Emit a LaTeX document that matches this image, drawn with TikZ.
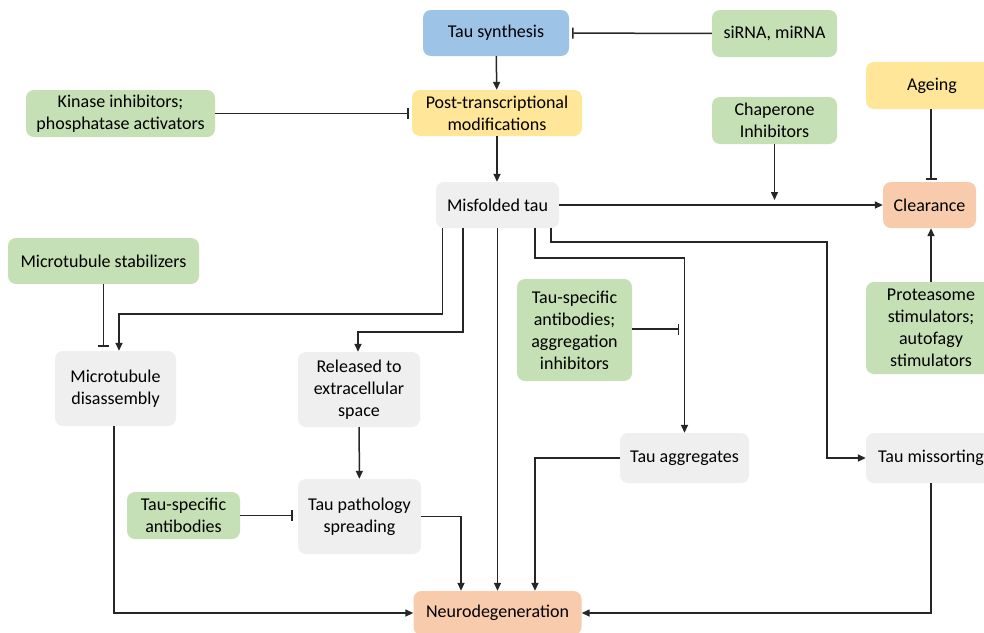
\documentclass[tikz,border=0pt]{standalone}
\usepackage{fontspec}
\setmainfont{Carlito}
\usetikzlibrary{arrows.meta,calc}
\definecolor{cblue}{HTML}{9DC3E6}
\definecolor{cgreen}{HTML}{C5E0B4}
\definecolor{cyellow}{HTML}{FFE699}
\definecolor{corange}{HTML}{F8CBAD}
\definecolor{cgray}{HTML}{EFEFEF}
\tikzset{
  box/.style={rounded corners=8pt, align=center, inner sep=0pt,
    font=\fontsize{18}{22}\selectfont, text=black},
  arr/.style={line width=1.5pt, draw=black!85, -{Triangle[length=8pt,width=7pt]}},
  inh/.style={line width=1.5pt, draw=black!85, -{Bar[width=11pt,line width=1.5pt]}},
}
\begin{document}
\begin{tikzpicture}[x=1pt,y=-1pt]
\useasboundingbox (0,0) rectangle (984,632);
\clip (0,0) rectangle (984,632);
\fill[white] (0,0) rectangle (984,632);
% nodes
\node[box, fill=cblue, minimum width=146pt, minimum height=46pt] (syn) at (496,33) {Tau synthesis};
\node[box, fill=cgreen, minimum width=125pt, minimum height=47pt] (sirna) at (774.5,33.5) {siRNA, miRNA};
\node[box, fill=cyellow, minimum width=170pt, minimum height=46pt] (post) at (497,113) {Post-transcriptional\\modifications};
\node[box, fill=cgreen, minimum width=189pt, minimum height=47pt] (kin) at (120.5,113.5) {Kinase inhibitors;\\phosphatase activators};
\node[box, fill=cgreen, minimum width=125pt, minimum height=47pt] (chap) at (774.5,120.5) {Chaperone\\Inhibitors};
\node[box, fill=cgray, minimum width=123pt, minimum height=46pt] (mis) at (497.5,205) {Misfolded tau};
\node[box, fill=cyellow, minimum width=132pt, minimum height=47pt] (age) at (932,85.5) {Ageing};
\node[box, fill=corange, minimum width=93pt, minimum height=46pt] (clr) at (929.5,205) {Clearance};
\node[box, fill=cgreen, minimum width=191pt, minimum height=46pt] (mts) at (103.5,261) {Microtubule stabilizers};
\node[box, fill=cgreen, minimum width=130pt, minimum height=92pt] (prot) at (931,328) {Proteasome\\stimulators;\\autofagy\\stimulators};
\node[box, fill=cgray, minimum width=121pt, minimum height=75pt] (mtd) at (115.5,388.5) {Microtubule\\disassembly};
\node[box, fill=cgray, minimum width=122pt, minimum height=75pt] (rel) at (359,389.5) {Released to\\extracellular\\space};
\node[box, fill=cgreen, minimum width=115pt, minimum height=102pt] (tsa) at (574.5,330) {Tau-specific\\antibodies;\\aggregation\\inhibitors};
\node[box, fill=cgray, minimum width=129pt, minimum height=50pt] (agg) at (684.5,458) {Tau aggregates};
\node[box, fill=cgray, minimum width=130pt, minimum height=50pt] (mso) at (931,458) {Tau missorting};
\node[box, fill=cgray, minimum width=123pt, minimum height=75pt] (tps) at (359.5,516.5) {Tau pathology\\spreading};
\node[box, fill=cgreen, minimum width=113pt, minimum height=47pt] (tsab) at (183.5,515.5) {Tau-specific\\antibodies};
\node[box, fill=corange, minimum width=168pt, minimum height=44pt] (neu) at (497.5,613) {Neurodegeneration};
% connectors
\draw[inh, shorten >=3pt] (sirna) -- (syn);
\draw[arr] (syn) -- (post);
\draw[inh, shorten >=3pt] (kin) -- (kin -| post.west);
\draw[arr] (post) -- (post |- mis.north);
\draw[arr] (mis) -- (clr);
\draw[arr, shorten >=5pt] (chap) -- (chap |- mis);
\draw[inh, shorten >=2pt] ([xshift=-1pt]age.south) -- ([xshift=-1pt]age.south |- clr.north);
\draw[arr] (prot) -- (prot |- clr.south);
\draw[inh, shorten >=4pt] (mts) -- (mts |- mtd.north);
\draw[arr] ([xshift=-55pt]mis.south) -- ++(0,86) -| ([xshift=3.5pt]mtd.north);
\draw[arr] ([xshift=-34.5pt]mis.south) -- ++(0,104) -| ([xshift=-1pt]rel.north);
\draw[arr] (mis) -- (neu);
\draw[arr] ([xshift=37.5pt]mis.south) -- ++(0,30) -| (agg.north);
\draw[arr] ([xshift=53.5pt]mis.south) -- ++(0,14) -- ++(276,0) |- (mso.west);
\coordinate (tsaend) at (679,329);
\draw[inh] (tsa.east |- tsaend) -- (tsaend);
\draw[arr] (rel) -- (tps);
\draw[inh, shorten >=5pt] (tsab) -- (tsab -| tps.west);
\draw[arr] (tps.east) -| ([xshift=-36.5pt]neu.north);
\draw[arr] ([xshift=-1.5pt]mtd.south) |- (neu.west);
\draw[arr] (agg.west) -| ([xshift=37.5pt]neu.north);
\draw[arr] (mso.south) |- (neu.east);
\end{tikzpicture}
\end{document}
